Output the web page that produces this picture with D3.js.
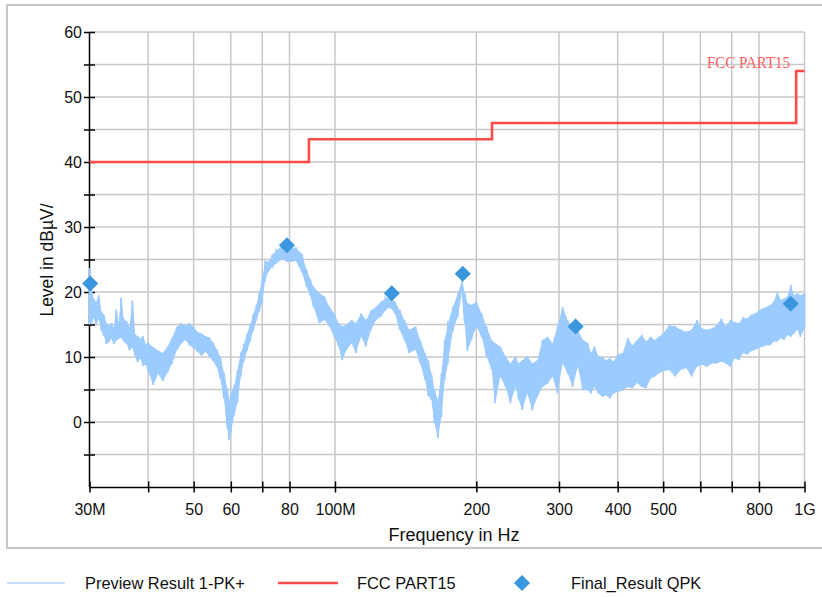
<!DOCTYPE html>
<html><head><meta charset="utf-8">
<script src="https://cdn.jsdelivr.net/npm/d3@7"></script>
<style>
html,body{margin:0;padding:0;background:#fff;}
svg{display:block;font-family:"Liberation Sans",Arial,sans-serif;}
</style></head>
<body>
<svg id="chart" width="822" height="597"></svg>
<script>
// Preview Result 1-PK+ : frequency (MHz) with the low/high extent of the noisy trace (dBµV)
const previewFreq = [30,30.3,30.6,31,31.4,31.8,32.2,32.6,33,33.4,33.8,34.2,34.6,35,35.5,36,36.5,37,37.5,38,38.5,39,39.5,40,
  41,42,43,44,45,46,47,48,49,50,51,52,53,54,55,56,57,58,59,59.5,60,61,62,63,64,65,66,67,68,69,70,
  71,72,73.5,75,77.5,79,81,82.5,84,85,87,88.5,90,92.6,95,97.3,99.6,101.8,103.6,105.8,108.5,110.8,113.7,116.4,119.4,
  122.3,125.2,128.1,131.1,134.2,137.4,140.5,143.9,148.4,151.9,155.5,158,160.4,163,165.7,168.5,171.3,174,178.3,182.8,
  186.4,189,191.4,195.3,200,205.3,210.2,215.7,219.4,225,230.8,236.4,242.4,246,250.5,256.8,263.2,269.9,276.6,283.6,
  290.6,297.8,305.3,312.9,320.8,328.9,337.3,345.7,351,357,364,371,378,385,392,400,410,420,430,440,450,460,470,480,490,
  500,515,530,545,560,575,590,605,620,635,650,665,680,695,710,725,740,755,770,785,800,815,830,845,860,875,890,905,920,
  935,950,965,980,1000];
const previewLo = [15.0,15.2,16.0,15.0,15.8,14.0,13.2,12.0,12.3,12.8,12.0,12.5,12.8,13.0,12.4,12.0,11.0,11.5,10.2,9.2,9.8,8.6,8.9,7.8,
  5.7,7.4,6.3,7.6,9.0,11.0,12.0,12.6,11.8,11.4,10.8,10.2,10.8,10.0,9.4,8.5,6.6,3.6,-1.0,-2.8,-1.6,1.0,3.0,7.0,9.4,11.0,12.4,14.0,15.6,17.0,18.5,
  21.8,23.0,23.9,24.4,25.2,24.6,24.7,24.8,23.8,23.0,20.8,19.5,17.7,15.2,15.7,14.7,13.1,11.6,9.5,11.1,12.1,10.6,13.1,11.6,14.2,
  15.7,16.2,17.2,17.7,16.7,14.2,12.6,10.6,11.1,9.0,6.5,4.0,3.4,-0.2,-2.5,0.8,6.5,9.0,14.2,16.2,
  20.0,15.2,10.9,12.6,14.7,13.1,10.1,8.0,2.9,7.0,5.4,2.9,5.4,3.5,1.8,4.4,1.8,3.9,5.4,5.9,
  7.0,4.4,9.0,7.5,5.4,8.5,4.9,4.9,4.4,5.4,4.4,3.9,4.1,3.6,4.4,4.6,4.9,5.4,5.2,6.0,5.4,5.2,6.7,7.0,7.5,
  7.8,8.0,7.0,8.0,8.3,7.0,8.5,8.8,8.5,9.0,9.0,9.3,9.0,8.5,9.8,9.5,10.6,10.4,10.9,11.1,11.4,11.6,11.8,11.8,12.4,12.4,12.9,12.6,13.4,
  13.1,13.6,14.2,13.1,14.4];
const previewHi = [23.7,20.5,19.0,18.5,19.5,17.0,16.5,15.2,14.8,15.2,14.5,17.3,15.2,19.1,15.8,15.5,14.6,18.7,13.5,13.2,12.8,13.2,12.0,12.2,
  11.5,11.0,10.6,11.6,13.0,14.6,15.2,14.8,15.2,14.6,13.8,13.6,13.2,13.0,12.2,11.2,10.0,7.6,5.0,3.4,4.4,5.6,8.0,10.6,12.0,13.6,15.0,16.6,18.0,20.0,22.0,
  24.8,24.5,25.7,26.4,27.2,26.6,26.7,26.9,26.2,25.9,23.4,22.0,20.8,19.8,19.3,17.7,16.7,15.2,14.7,15.0,15.7,15.2,16.7,15.7,17.2,
  17.7,18.5,19.0,19.3,18.5,17.2,15.7,14.2,14.7,12.6,10.6,9.5,7.5,4.9,3.4,7.5,12.6,15.2,17.7,19.8,
  21.8,19.8,18.3,18.0,18.5,16.7,14.7,12.6,12.1,11.6,10.1,9.0,10.1,9.0,9.5,10.1,9.0,9.5,12.6,13.1,
  12.1,14.7,17.7,15.7,14.2,14.2,12.6,12.1,10.6,11.6,10.1,10.0,9.5,9.8,9.3,10.4,10.6,12.9,11.8,12.6,13.4,12.4,13.1,12.6,13.1,
  13.6,14.9,14.7,14.2,13.9,14.2,15.7,14.4,14.2,14.4,14.9,15.9,14.7,15.7,15.4,15.2,16.1,15.9,16.5,16.7,17.2,17.5,17.7,18.0,18.5,20.0,18.8,19.0,19.3,
  21.1,19.5,19.8,19.5,19.8];

// FCC PART15 limit (step after each frequency)
const limitFreq = [30, 88, 216, 960, 1000];
const limitLevel = [40, 43.5, 46, 54, 54];

// Final_Result QPK
const finalFreq = [30.1, 79.0, 132.1, 187.1, 325.5, 934.6];
const finalLevel = [21.3, 27.2, 19.8, 22.8, 14.7, 18.2];

// Axis ticks
const xTickValues = [30, 40, 50, 60, 70, 80, 100, 200, 300, 400, 500, 600, 700, 800, 1000];
const xTickLabels = ["30M", "", "50", "60", "", "80", "100M", "200", "300", "400", "500", "", "", "800", "1G"];
const yTickValues = [-5, 0, 5, 10, 15, 20, 25, 30, 35, 40, 45, 50, 55, 60];
const yTickLabels = ["", "0", "", "10", "", "20", "", "30", "", "40", "", "50", "", "60"];

const svg = d3.select("#chart");
const L = 89.5, R = 804.5, T = 32, B = 487;
const x = d3.scaleLog().domain([30, 1000]).range([L, R]);
const y = d3.scaleLinear().domain([-10, 60]).range([B, T]);
const FONT = "Liberation Sans, Arial, sans-serif";

// outer frame
svg.append("rect").attr("x", 7).attr("y", 5).attr("width", 830).attr("height", 543)
  .attr("fill", "#fff").attr("stroke", "#c6c6c6").attr("stroke-width", 2);

// grid
const grid = svg.append("g");
grid.selectAll("line.gx").data(xTickValues.slice(1)).join("line")
  .attr("x1", d => x(d)).attr("x2", d => x(d)).attr("y1", T).attr("y2", B)
  .attr("stroke", "#c8c8c8").attr("stroke-width", 1.5);
grid.selectAll("line.gy").data(yTickValues).join("line")
  .attr("x1", L).attr("x2", R).attr("y1", d => y(d)).attr("y2", d => y(d))
  .attr("stroke", "#c8c8c8").attr("stroke-width", 1.5);

// axes
const xAxis = d3.axisBottom(x).tickValues(xTickValues)
  .tickFormat((d, i) => xTickLabels[i]).tickSizeInner(11).tickSizeOuter(0).tickPadding(11);
const gx = svg.append("g").attr("transform", `translate(0,${B - 5.5})`).call(xAxis);
gx.select(".domain").attr("transform", "translate(0,5.5)").attr("stroke", "#000").attr("stroke-width", 1.5);
gx.selectAll(".tick line").attr("stroke", "#000").attr("stroke-width", 1.5);
gx.selectAll(".tick text").attr("font-size", 16).attr("font-family", FONT).attr("fill", "#111").attr("dy", "0.71em");

const yAxis = d3.axisLeft(y).tickValues(yTickValues)
  .tickFormat((d, i) => yTickLabels[i]).tickSizeInner(11).tickSizeOuter(0);
const gy = svg.append("g").attr("transform", `translate(${L + 5.5},0)`).call(yAxis);
gy.select(".domain").attr("transform", "translate(-5.5,0)").attr("stroke", "#000").attr("stroke-width", 1.5)
  .attr("d", `M0,${B}V${T}`);
gy.selectAll(".tick line").attr("stroke", "#000").attr("stroke-width", 1.5);
gy.selectAll(".tick text").attr("font-size", 16).attr("font-family", FONT).attr("fill", "#111")
  .attr("x", -13);

// axis titles
svg.append("text").attr("x", 454).attr("y", 541).attr("text-anchor", "middle")
  .attr("font-size", 18).attr("fill", "#111").text("Frequency in Hz");
svg.append("text").attr("transform", "translate(53,260) rotate(-90)").attr("text-anchor", "middle")
  .attr("font-size", 17.5).attr("fill", "#111").text("Level in dBµV/");

// limit line
const limitData = limitFreq.map((f, i) => [f, limitLevel[i]]);
svg.append("path").datum(limitData)
  .attr("d", d3.line().x(d => x(d[0])).y(d => y(d[1])).curve(d3.curveStepAfter))
  .attr("fill", "none").attr("stroke", "#ff4a4a").attr("stroke-width", 2.6);
svg.append("text").attr("x", 790).attr("y", 68).attr("text-anchor", "end")
  .attr("font-family", "Liberation Serif, Times New Roman, serif").attr("font-size", 16)
  .attr("textLength", 83).attr("lengthAdjust", "spacingAndGlyphs")
  .attr("fill", "#ff6060").text("FCC PART15");

// preview trace: band between low and high extent, then the trace through both extents
const traceColor = "#9ccbff";
const band = previewFreq.map((f, i) => ({f, lo: previewLo[i], hi: previewHi[i]}));
svg.append("path").datum(band)
  .attr("d", d3.area().x(d => x(d.f)).y0(d => y(d.lo)).y1(d => y(d.hi)))
  .attr("fill", traceColor).attr("stroke", "none");
const tracePts = [];
band.forEach(d => { tracePts.push([d.f, d.lo]); tracePts.push([d.f, d.hi]); });
svg.append("path").datum(tracePts)
  .attr("d", d3.line().x(d => x(d[0])).y(d => y(d[1])))
  .attr("fill", "none").attr("stroke", traceColor).attr("stroke-width", 1.8);

// final results
const diamond = d3.symbol().type(d3.symbolSquare).size(130);
svg.selectAll("path.fr").data(finalFreq.map((f, i) => [f, finalLevel[i]])).join("path")
  .attr("class", "fr")
  .attr("transform", d => `translate(${x(d[0])},${y(d[1])}) rotate(45)`)
  .attr("d", diamond)
  .attr("fill", "#3b97dd");

// legend
const lg = svg.append("g").attr("font-size", 16.4).attr("fill", "#111");
lg.append("line").attr("x1", 7).attr("x2", 65).attr("y1", 583).attr("y2", 583).attr("stroke", "#aed3fb").attr("stroke-width", 1.6);
lg.append("text").attr("x", 85).attr("y", 589).text("Preview Result 1-PK+");
lg.append("line").attr("x1", 278).attr("x2", 338).attr("y1", 583).attr("y2", 583).attr("stroke", "#ff4a4a").attr("stroke-width", 2.6);
lg.append("text").attr("x", 357).attr("y", 589).text("FCC PART15");
lg.append("path").attr("transform", "translate(522,583) rotate(45)").attr("d", diamond).attr("fill", "#3b97dd");
lg.append("text").attr("x", 571).attr("y", 589).text("Final_Result QPK");
</script>
</body></html>
